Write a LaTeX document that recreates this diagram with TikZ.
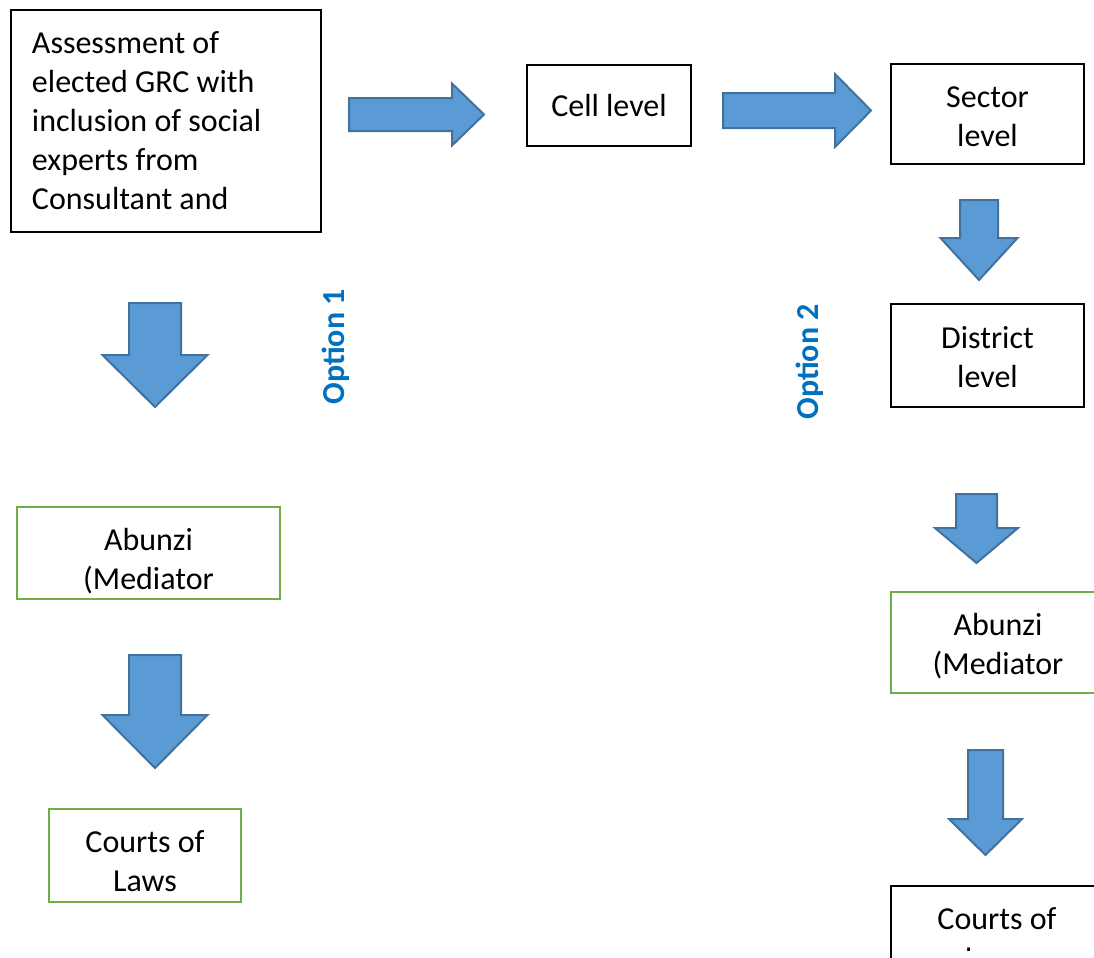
\documentclass[tikz,border=0pt]{standalone}
\usepackage{fontspec}
\setmainfont{Carlito}

\definecolor{arrowfill}{HTML}{5B9BD5}
\definecolor{arrowline}{HTML}{41719C}
\definecolor{optblue}{HTML}{0070C0}
\definecolor{boxgreen}{HTML}{70AD47}

\tikzset{
  box/.style={draw=black, line width=1pt, inner sep=0pt},
  greenbox/.style={box, draw=boxgreen},
  boxtext/.style={align=center, inner sep=0pt, font=\fontsize{16}{19.5}\selectfont},
  blockarrow/.style={fill=arrowfill, draw=arrowline, line width=1pt, line join=miter},
  optlabel/.style={text=optblue, rotate=90, font=\fontsize{16}{19.5}\selectfont\bfseries}
}

\begin{document}
\begin{tikzpicture}[x=0.5pt, y=-0.5pt]
    \useasboundingbox (0,0) rectangle (1094,958);
    \clip (0,0) rectangle (1094,958);

    % Top row
    \node[box, minimum width=155pt, minimum height=111pt] (assess) at (166,121) {};
    \node[boxtext, align=flush left, text width=134pt] (assess-text) at (assess)
      {Assessment of\\elected GRC with\\inclusion of social\\experts from\\Consultant and};
    \node[box, minimum width=82pt, minimum height=40.5pt] (cell) at (609,105.5) {};
    \node[boxtext] (cell-text) at (cell) {Cell level};
    \node[box, minimum width=96.5pt, minimum height=50pt] (sector) at (987.5,114) {};
    \node[boxtext, yshift=-1.5pt] (sector-text) at (sector) {Sector\\level};

    % Option 1 (left column)
    \node[optlabel] (opt1) at (336,347) {Option 1};
    \node[greenbox, minimum width=131.5pt, minimum height=46pt] (abunziL) at (148.5,553) {};
    \node[boxtext, yshift=-4pt] (abunziL-text) at (abunziL) {Abunzi\\(Mediator};
    \node[greenbox, minimum width=96pt, minimum height=46.5pt] (courtsL) at (145,855.5) {};
    \node[boxtext, yshift=-3pt] (courtsL-text) at (courtsL) {Courts of\\Laws};

    % Option 2 (right column)
    \node[optlabel] (opt2) at (810,362) {Option 2};
    \node[box, minimum width=96.5pt, minimum height=51.5pt] (district) at (987.5,355.5) {};
    \node[boxtext, yshift=-1pt] (district-text) at (district) {District\\level};
    \node[greenbox, minimum width=107pt, minimum height=50.5pt] (abunziR) at (998,642.5) {};
    \node[boxtext, yshift=-2pt] (abunziR-text) at (abunziR) {Abunzi\\(Mediator};
    \node[box, minimum width=106pt, minimum height=50pt] (courtsR) at (997,936) {};
    % text frame cuts the second line
    \begin{scope}
        \clip (891,886) rectangle (1094,950);
        \node[boxtext, yshift=-1pt] (courtsR-text) at (courtsR) {Courts of\\Laws};
    \end{scope}

    % Block arrows pointing right
    \foreach \xa/\xb/\yc/\b/\h/\hs in {349/484/114.5/16.5/31/452, 723/871/110.5/17.5/36.5/835}
        \draw[blockarrow] (\xa,\yc-\b) -- (\hs,\yc-\b) -- (\hs,\yc-\h) -- (\xb,\yc)
            -- (\hs,\yc+\h) -- (\hs,\yc+\b) -- (\xa,\yc+\b) -- cycle;

    % Block arrows pointing down
    \foreach \xc/\ya/\yb/\b/\h/\hs in {155/303/407/26/52.5/355, 155/655/768/26/52.5/715,
        979/200/280/19/38.5/238, 976.5/494/563/20.5/41.5/528, 985.5/750/855/17.5/36.5/819}
        \draw[blockarrow] (\xc-\b,\ya) -- (\xc+\b,\ya) -- (\xc+\b,\hs) -- (\xc+\h,\hs)
            -- (\xc,\yb) -- (\xc-\h,\hs) -- (\xc-\b,\hs) -- cycle;

\end{tikzpicture}
\end{document}
